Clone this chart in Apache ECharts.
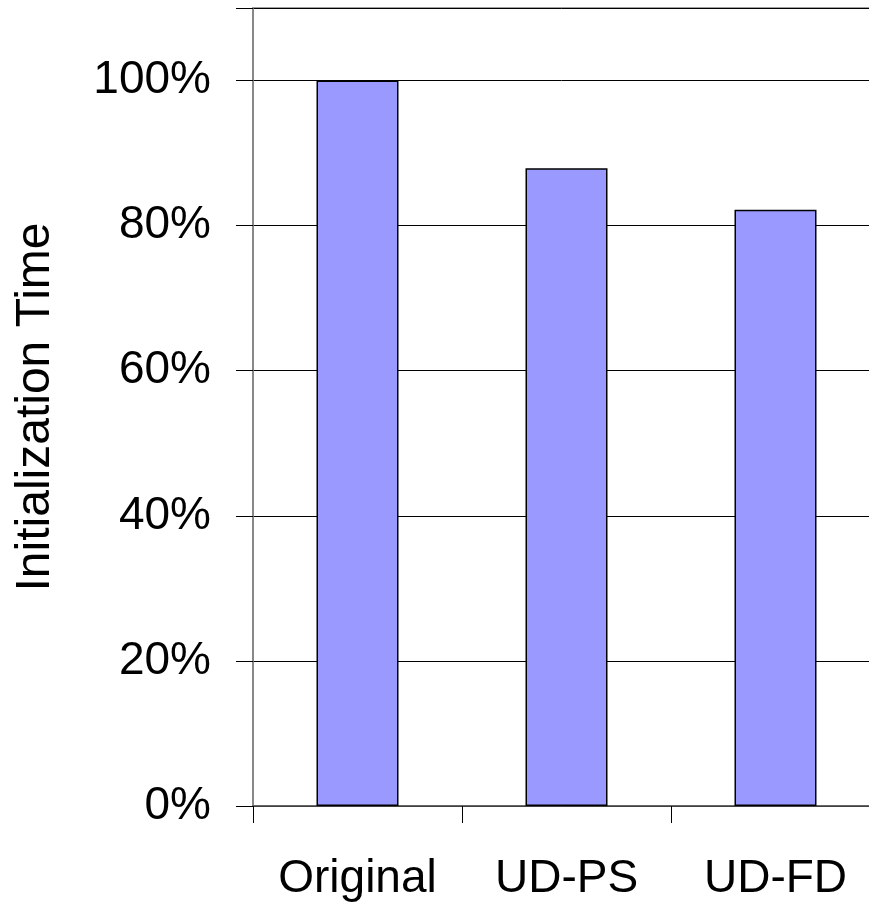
<!DOCTYPE html>
<html>
<head>
<meta charset="utf-8">
<script src="https://cdn.jsdelivr.net/npm/echarts@6/dist/echarts.min.js"></script>
<style>
  html, body { margin: 0; padding: 0; background: #fff; }
  #chart { width: 869px; height: 905px; }
</style>
</head>
<body>
<div id="chart"></div>
<script>
// Initialization time of each variant, relative to the original (%)
const categories = ['Original', 'UD-PS', 'UD-FD'];
const initTime = [100, 87.9, 82.2];
const yTicks = [0, 20, 40, 60, 80, 100];

const chart = echarts.init(document.getElementById('chart'), null, { renderer: 'canvas' });
const font = 'Liberation Sans, Arial, sans-serif';

chart.setOption({
  animation: false,
  backgroundColor: '#ffffff',
  grid: {
    left: 253, top: 8, width: 627, height: 798,
    outerBoundsMode: 'none',
    containLabel: false,
    show: true, borderColor: '#808080', borderWidth: 1.5, backgroundColor: 'transparent'
  },
  xAxis: {
    type: 'category',
    data: categories,
    boundaryGap: true,
    axisLine: { lineStyle: { color: '#555', width: 1.5 } },
    axisTick: { show: true, length: 17, lineStyle: { color: '#000', width: 1 } },
    axisLabel: { color: '#000', fontSize: 46, fontFamily: font, margin: 50 }
  },
  yAxis: {
    type: 'value',
    min: 0, max: 110, interval: 20,
    name: 'Initialization Time',
    nameLocation: 'middle',
    nameGap: 193,
    nameRotate: 90,
    nameTextStyle: { color: '#000', fontSize: 48, fontFamily: font },
    axisLine: { show: true, lineStyle: { color: '#808080', width: 1.5 } },
    axisTick: { show: true, length: 17, lineStyle: { color: '#000', width: 1 } },
    axisLabel: {
      color: '#000', fontSize: 46, fontFamily: font, margin: 42,
      formatter: v => (yTicks.indexOf(v) >= 0 ? v + '%' : '')
    },
    splitLine: { show: true, lineStyle: { color: '#000', width: 1 } }
  },
  series: [{
    type: 'bar',
    data: initTime,
    barWidth: 82,
    itemStyle: { color: '#9999FF', borderColor: '#000', borderWidth: 1.5 }
  }]
});
</script>
</body>
</html>
